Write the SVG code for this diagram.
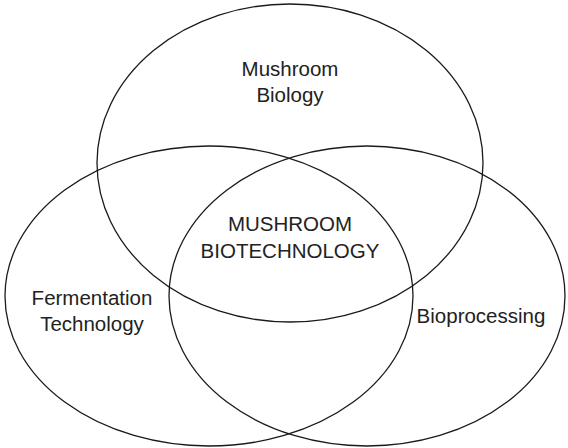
<svg xmlns="http://www.w3.org/2000/svg" width="568" height="448" viewBox="0 0 568 448">
<style>
.c{fill:none;stroke:#1a1a1a;stroke-width:1.3}
.t{font-family:"Liberation Sans",Arial,sans-serif;font-size:20.5px;fill:#222;text-anchor:middle}
</style>
<rect width="568" height="448" fill="#fff"/>
<g id="mushroom-biology">
<ellipse class="c" cx="290" cy="163" rx="193" ry="159"/>
<text class="t" x="290" y="76">Mushroom</text>
<text class="t" x="290" y="102">Biology</text>
</g>
<g id="fermentation-technology">
<ellipse class="c" cx="209" cy="296" rx="204" ry="150"/>
<text class="t" x="92" y="305">Fermentation</text>
<text class="t" x="92" y="331">Technology</text>
</g>
<g id="bioprocessing">
<ellipse class="c" cx="367" cy="296" rx="198" ry="150"/>
<text class="t" x="481" y="323">Bioprocessing</text>
</g>
<g id="mushroom-biotechnology">
<text class="t" x="290" y="231">MUSHROOM</text>
<text class="t" x="290" y="258">BIOTECHNOLOGY</text>
</g>
</svg>
